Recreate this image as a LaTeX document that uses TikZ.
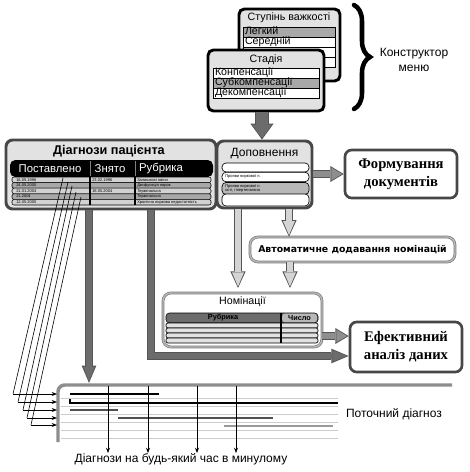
\documentclass[tikz,border=0pt]{standalone}
\usepackage{fontspec}
\setmainfont{Liberation Sans}
\newfontfamily\serifbf{Liberation Serif}
\newfontfamily\verdbf{DejaVu Sans}
\usetikzlibrary{arrows.meta,decorations.pathreplacing}

\definecolor{panelline}{HTML}{474747}
\definecolor{panelfill}{HTML}{E2E2E2}
\definecolor{rowdark}{HTML}{A8A8A8}
\definecolor{rowlight}{HTML}{D2D2D2}
\definecolor{arrline}{HTML}{555555}
\definecolor{arrdark}{HTML}{6C6C6C}
\definecolor{arrmid}{HTML}{8E8E8E}
\definecolor{arrlight}{HTML}{D4D4D4}
\definecolor{softline}{HTML}{7A7A7A}
\definecolor{softfill}{HTML}{B8B8B8}
\definecolor{sepline}{HTML}{CCCCCC}
\definecolor{framegray}{HTML}{8E8E8E}
\definecolor{bardark}{HTML}{505050}
\definecolor{barlight}{HTML}{9A9A9A}

\tikzset{
  menubox/.style={draw=black, line width=2.2pt, rounded corners=4pt, fill=panelfill, inner sep=0pt},
  menurow/.style={draw=black, line width=0.6pt, fill=white, inner xsep=1.5pt, inner ysep=0pt,
    text width=#1, align=left, minimum height=7.5pt, text height=5.6pt, text depth=1.4pt,
    font=\fontsize{8}{9}\selectfont},
  menutitle/.style={font=\fontsize{8}{9}\selectfont, inner sep=0pt},
  panel/.style={draw=panelline, line width=2.2pt, rounded corners=5pt, fill=panelfill, inner sep=0pt},
  pill/.style={draw=black, line width=0.5pt, rounded corners=3pt, fill=white, minimum width=65.25pt, inner sep=0pt},
  result/.style={draw=panelline, line width=2pt, rounded corners=5pt, fill=white, align=center,
    font=\serifbf\bfseries\fontsize{11}{13.5}\selectfont, inner sep=0pt},
  softbox/.style={draw=softline, double=softfill, double distance=1.1pt, line width=0.5pt,
    rounded corners=6pt, fill=white, inner sep=0pt},
  tiny/.style={font=\fontsize{3}{3.5}\selectfont, inner sep=0pt, anchor=west},
  txt/.style={font=\fontsize{9}{11}\selectfont, inner sep=0pt, align=center},
  headtxt/.style={font=\fontsize{8.5}{10}\selectfont, inner sep=0pt, text=white},
  smallarrow/.style={line width=0.5pt, -{Stealth[length=4pt,width=3pt]}},
  darkdown/.style={draw=arrline, line width=10pt, -{Triangle[length=12pt,width=17.5pt,line width=0pt]},
    postaction={draw=arrdark, line width=8.6pt, shorten >=1.2pt, -{Triangle[length=10pt,width=15pt,line width=0pt]}}},
  sidearrow/.style={draw=arrline, line width=6.6pt, -{Triangle[length=10pt,width=12pt,line width=0pt]},
    postaction={draw=arrmid, line width=5.2pt, shorten >=1.2pt, -{Triangle[length=8pt,width=9.5pt,line width=0pt]}}},
  lightdown/.style={draw=arrline, line width=6.4pt, -{Triangle[length=12.5pt,width=11.5pt,line width=0pt]},
    postaction={draw=arrlight, line width=5pt, shorten >=1.2pt, -{Triangle[length=10.5pt,width=9pt,line width=0pt]}}},
  pipe/.style={draw=arrline, line width=5.7pt, -{Triangle[length=13pt,width=11pt,line width=0pt]},
    postaction={draw=arrdark, line width=4.4pt, shorten >=1.2pt, -{Triangle[length=11pt,width=8.6pt,line width=0pt]}}},
}

\begin{document}
\begin{tikzpicture}[x=0.75pt,y=-0.75pt]
  \useasboundingbox (0,0) rectangle (470,472);

  \node[menubox, minimum width=75.75pt, minimum height=54pt] (stupin) at (289.5,45) {};
  \node[menutitle] (stupint) at (289,18) {Ступінь важкості};
  \node[menurow=66pt, fill=rowdark] (legk) at (289,32) {Легкий};
  \node[menurow=66pt] (sered) at (289,42) {Середній};
  \node[menurow=66pt] (srow3) at (289,52) {};
  \node[menurow=66pt] (srow4) at (289,62) {};

  \node[menubox, minimum width=87pt, minimum height=45.75pt] (stadia) at (266,80.5) {};
  \node[menutitle] (stadiat) at (266,60) {Стадія};
  \node[menurow=76.5pt] (komp) at (266,73) {Конпенсації};
  \node[menurow=76.5pt, fill=rowdark] (subk) at (266,83) {Субкомпенсації};
  \node[menurow=76.5pt] (dekomp) at (266,93) {Декомпенсації};

  \draw[line width=3.4pt, line cap=round, decorate, decoration={brace, amplitude=12pt}] (354,5) -- (354,109);
  \node[txt] (konstr) at (414,60) {Конструктор\\меню};

  \node[panel, minimum width=157.5pt, minimum height=51.75pt] (diagn) at (111,174.5) {};
  \node[font=\bfseries\fontsize{9.5}{11}\selectfont, inner sep=0pt] (diagnt) at (109,151.5) {Діагнози пацієнта};
  \node[fill=black, rounded corners=4pt, minimum width=152.25pt, minimum height=12.75pt, inner sep=0pt] (dhead) at (111.5,168.5) {};
  \node[headtxt] (hpost) at (50,168.5) {Поставлено};
  \node[headtxt] (hzn) at (110,168.5) {Знято};
  \node[headtxt] (hrub) at (161,168.5) {Рубрика};
  \foreach \i/\c in {1/rowlight,2/rowdark,3/rowlight,4/rowdark,5/rowlight}
    \node[draw=black, line width=0.4pt, fill=\c, rounded corners=1.5pt, minimum width=149.25pt,
      minimum height=4.2pt, inner sep=0pt] (drow\i) at (111.5,{174.2+5.6*\i}) {};
  \foreach \i/\a/\b/\c in {1/16.05.1996/23.02.1996/Залишкові зміни,
      2/24.05.2000//Дисфункція нирок, 3/21.01.2004/18.05.2004/Термінальна,
      4/21.2004//Термінальна, 5/12.05.2005//Хронічна ниркова недостатність} {
    \node[tiny] (dpost\i) at (16,{174.2+5.6*\i}) {\a};
    \node[tiny] (dzn\i) at (92,{174.2+5.6*\i}) {\b};
    \node[tiny] (drub\i) at (137,{174.2+5.6*\i}) {\c};
  }
  \foreach \x in {90,135} {
    \draw[gray, line width=0.6pt] (\x,161) -- (\x,176);
    \draw[line width=0.8pt] (\x,177) -- (\x,205);
  }

  \node[panel, minimum width=71.25pt, minimum height=50.25pt] (dopov) at (264.5,174.5) {};
  \node[txt] (dopovt) at (264.5,154) {Доповнення};
  \node[pill, minimum height=6.75pt] (pill1) at (265.5,167.5) {};
  \node[pill, minimum height=7.1pt] (pill2) at (265.5,177) {};
  \node[pill, minimum height=9pt, fill=softfill] (pill3) at (265.5,188.5) {};
  \node[pill, minimum height=9pt] (pill4) at (265.5,200) {};
  \node[tiny] (pill2t) at (225,177) {Прояви ниркової н.};
  \node[tiny, align=left] (pill3t) at (225,188.5) {Прояви ниркової н.\\ості, гіпертензивна};

  \node[result, minimum width=84pt, minimum height=36pt] (formuv) at (401,174) {Формування\\документів};

  \node[softbox, minimum width=153.75pt, minimum height=18.75pt,
    font=\verdbf\bfseries\fontsize{7}{8}\selectfont] (avtom) at (352.5,249.5) {Автоматичне додавання номінацій};

  \node[softbox, minimum width=119.25pt, minimum height=40.5pt] (nomin) at (242.5,320) {};
  \node[font=\fontsize{8}{9}\selectfont, inner sep=0pt] (nomint) at (242.5,302) {Номінації};
  \node[fill=arrdark, draw=black, line width=0.4pt, rounded corners=2.5pt, minimum width=114pt,
    minimum height=7.5pt, inner sep=0pt] (nhead) at (242,318) {};
  \node[fill=softfill, rounded corners=2pt, minimum width=26pt, minimum height=6.5pt, inner sep=0pt] (nchis) at (299.5,318) {};
  \node[font=\bfseries\fontsize{5.5}{6}\selectfont, inner sep=0pt] (nrub) at (223,318) {Рубрика};
  \node[font=\bfseries\fontsize{5.5}{6}\selectfont, inner sep=0pt] (nch) at (299.5,318) {Число};
  \foreach \i in {1,...,4}
    \node[draw=black, line width=0.5pt, fill=panelfill, rounded corners=1.5pt, minimum width=114pt,
      minimum height=3.75pt, inner sep=0pt] (nrow\i) at (242,{320.5+5*\i}) {};
  \draw[line width=0.9pt] (281,313) -- (281,343);

  \node[result, minimum width=84pt, minimum height=37.5pt] (efekt) at (406,347) {Ефективний\\аналіз даних};

  \coordinate (nin1) at (238,288);
  \coordinate (nin2) at (290,288);
  \coordinate (tltop) at (89,383);
  \coordinate (tline) at (58,386);

  \draw[darkdown] (stadia.south -| 262,0) -- (dopov.north -| 262,0);
  \draw[sidearrow] (dopov.east |- 0,174) -- (formuv.west |- 0,174);
  \draw[lightdown] (dopov.south -| 289,0) -- (avtom.north -| 289,0);
  \draw[lightdown] (avtom.south -| 290,0) -- (nin2);
  \draw[lightdown] (dopov.south -| 238,0) -- (nin1);
  \draw[sidearrow] (nomin.east |- 0,336) -- (efekt.west |- 0,336);
  \draw[pipe] (diagn.south -| 151,0) |- (efekt.west |- 0,356);
  \draw[pipe] (diagn.south -| 89,0) -- (tltop);

  \foreach \y in {398,406,414,422,430,438}
    \draw[sepline, line width=0.5pt] (61,\y) -- (338,\y);
  \draw[framegray, line width=2.6pt, rounded corners=5pt] (58,442) |- (452,385);
  \draw[line width=2.2pt] (70,394) -- (159,394);
  \draw[line width=0.8pt] (70,399) -- (70,403) -- (338,403);
  \draw[bardark, line width=2.2pt] (70,410) -- (118,410);
  \draw[bardark, line width=2.2pt] (118,418) -- (273,418);
  \draw[barlight, line width=2.2pt] (224,426) -- (333,426);

  \foreach \i/\sx/\sy/\bx/\by in {1/63/178/13/394, 2/68/182/18/402, 3/72/186/23/410,
      4/76/192/27/418, 5/81/197/31/425} {
    \coordinate (src\i) at (\sx,\sy);
    \coordinate (bend\i) at (\bx,\by);
    \coordinate (dst\i) at (57,\by);
    \draw[line width=0.45pt] (src\i) -- (bend\i);
    \draw[smallarrow] (bend\i) -- (dst\i);
  }

  \node[txt] (curr) at (394,414) {Поточний діагноз};
  \node[txt] (past) at (181,459) {Діагнози на будь-який час в минулому};
  \foreach \x in {108,148,197,236}
    \draw[smallarrow] (tline -| \x,0) -- (past.north -| \x,0);
\end{tikzpicture}
\end{document}
